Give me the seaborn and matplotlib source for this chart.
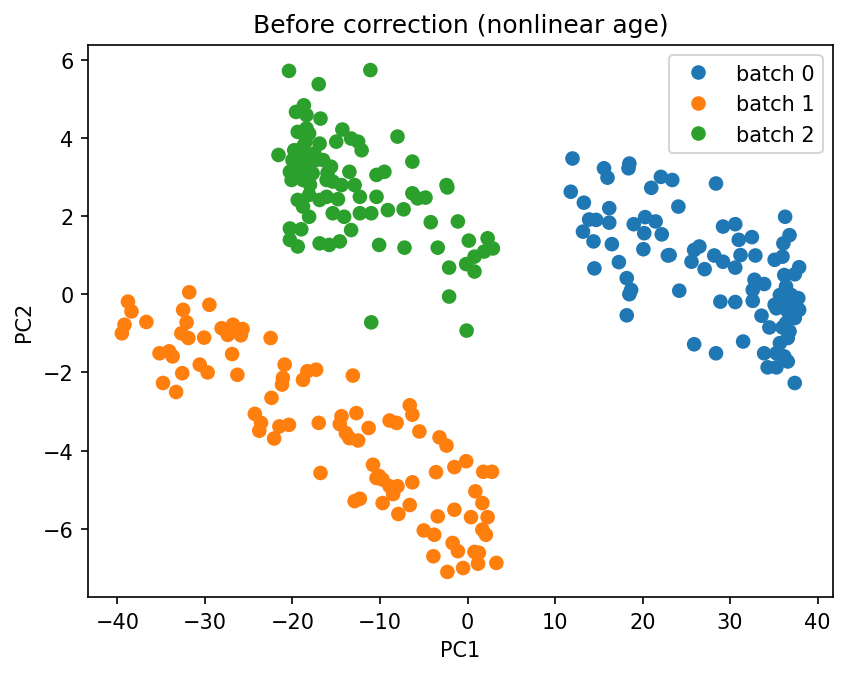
import numpy as np
import pandas as pd
import seaborn as sns
import matplotlib
matplotlib.use("Agg")
import matplotlib.pyplot as plt

# values
batch_names = ["batch 0", "batch 1", "batch 2"]
batch_colors = ["#1f77b4", "#ff7f0e", "#2ca02c"]

b0_x = [12.0, 15.6, 16.0, 18.5, 18.4, 22.1, 21.0, 11.8, 13.3, 16.2, 13.9, 14.7, 16.2, 13.2, 14.4,
        16.5, 19.0, 20.3, 21.5, 20.2, 22.2, 20.1, 22.9, 17.3, 14.5, 18.2, 18.7, 18.5, 18.2,
        23.4, 28.4, 24.1, 36.3, 29.2, 30.6, 36.8, 36.1, 31.0, 32.5, 26.5, 25.9, 23.1, 25.6, 28.2,
        29.2, 31.2, 32.9, 35.1, 36.0, 27.1, 30.6, 37.9, 37.4, 36.2, 32.8, 33.9, 32.6, 24.2,
        36.4, 35.7, 37.0, 37.8, 35.1, 36.2, 37.2, 37.9, 35.3, 36.6, 37.4, 36.4,
        28.9, 30.6, 32.6, 33.6, 34.5, 36.0, 36.8, 36.6, 35.7, 31.5, 25.9, 28.4, 33.9, 35.3, 36.2,
        36.6, 34.3, 35.3, 37.4]
b0_y = [3.47, 3.22, 2.98, 3.34, 3.22, 3.00, 2.72, 2.62, 2.34, 2.20, 1.91, 1.90, 1.83, 1.60, 1.35,
        1.28, 1.79, 1.97, 1.86, 1.56, 1.53, 1.15, 0.99, 0.82, 0.66, 0.41, 0.11, 0.00, -0.54,
        2.92, 2.83, 2.24, 1.98, 1.73, 1.79, 1.51, 1.30, 1.39, 1.46, 1.22, 1.13, 1.00, 0.83, 0.99,
        0.83, 1.00, 0.99, 0.88, 0.96, 0.64, 0.68, 0.69, 0.51, 0.49, 0.37, 0.26, 0.11, 0.09,
        0.20, -0.02, -0.02, -0.10, -0.27, -0.23, -0.27, -0.40, -0.36, -0.44, -0.61, -0.74,
        -0.19, -0.20, -0.17, -0.55, -0.85, -0.85, -0.95, -1.12, -1.25, -1.21, -1.28, -1.51, -1.51,
        -1.51, -1.59, -1.72, -1.87, -1.87, -2.27]

b1_x = [-31.8, -38.8, -38.4, -29.5, -32.5, -36.7, -32.1, -39.2, -39.5, -32.7, -31.9, -30.1, -28.1,
        -26.8, -25.7, -27.4, -25.9, -35.2, -34.1, -33.7, -26.9, -30.6, -29.7, -32.6, -26.3, -34.8,
        -33.3,
        -22.5, -20.9, -21.1, -21.2, -18.3, -17.3, -18.8, -13.1, -22.4, -24.3, -23.6, -23.8, -21.5,
        -20.4, -22.1, -17.0, -14.4, -12.7, -14.6, -13.9, -13.5, -12.5, -11.3, -10.8, -10.1, -16.8,
        -8.9, -8.1, -6.6, -6.3, -5.5, -3.2, -2.4, -10.4, -9.7, -8.9, -8.0, -8.5, -6.3, -6.6, -9.7,
        -12.9, -12.3, -7.9, -3.6, -1.5, -0.15, 1.8, 2.8, 0.9, 1.7, -3.4, -1.5, 0.4, 2.3, 1.7, 2.1,
        -5.0, -3.8, -1.7, -1.1, -3.9, 0.8, 1.3, 1.2, 3.3, -0.5, -2.3]
b1_y = [0.05, -0.19, -0.44, -0.27, -0.40, -0.71, -0.72, -0.78, -1.00, -1.00, -1.12, -1.11, -0.87,
        -0.78, -0.89, -1.04, -1.05, -1.51, -1.46, -1.59, -1.53, -1.80, -2.00, -2.02, -2.06, -2.27,
        -2.50,
        -1.12, -1.80, -2.14, -2.31, -1.97, -1.93, -2.19, -2.08, -2.65, -3.06, -3.29, -3.49, -3.38,
        -3.34, -3.69, -3.29, -3.12, -3.04, -3.32, -3.55, -3.68, -3.74, -3.42, -4.36, -4.65, -4.57,
        -3.23, -3.29, -2.84, -3.08, -3.51, -3.66, -3.87, -4.70, -4.74, -4.91, -4.91, -5.11, -4.81,
        -5.39, -5.34, -5.29, -5.23, -5.62, -4.55, -4.42, -4.27, -4.54, -4.54, -5.04, -5.34, -5.68,
        -5.51, -5.70, -5.70, -6.02, -6.15, -6.04, -6.15, -6.36, -6.57, -6.70, -6.59, -6.61, -6.89,
        -6.87, -7.00, -7.10]

b2_x = [-20.4, -11.1, -17.0, -18.7, -19.6, -18.4, -16.8, -19.4, -18.4, -18.1, -14.3, -15.0, -13.3,
        -12.5, -12.1, -16.9, -21.6, -19.8, -18.8,
        -20.0, -18.8, -18.1, -17.3, -16.5, -15.6, -19.6, -18.4, -20.3, -17.7, -20.1, -18.8, -16.1,
        -19.0, -17.5, -18.0, -16.0, -19.5, -18.5, -17.8,
        -13.5, -10.4, -9.5, -15.4, -14.4, -12.9, -19.4, -18.1, -16.9, -16.1, -14.8, -12.3, -10.4,
        -18.8, -18.1, -15.4, -14.1, -12.3, -11.0, -9.1,
        -20.3, -19.0, -13.3, -20.3, -19.4, -16.9, -15.8, -14.6, -10.1, -11.0,
        -8.0, -6.3, -2.4, -2.3, -6.3, -5.7, -4.8, -7.3, -4.2, -1.1, -7.2, -3.4, 0.15, 2.3, 2.9,
        1.9, 0.8, -0.15, 0.8, -2.1, -2.1, -0.1]
b2_y = [5.71, 5.73, 5.37, 4.83, 4.66, 4.58, 4.49, 4.15, 4.24, 4.11, 4.21, 3.90, 3.98,
        3.90, 3.68, 3.85, 3.56, 3.68, 3.77,
        3.43, 3.52, 3.34, 3.43, 3.43, 3.26, 3.22, 3.17, 3.13, 3.09, 2.92, 2.92, 2.92,
        3.30, 3.60, 2.80, 3.10, 3.00, 3.90, 3.40,
        3.13, 3.05, 3.13, 2.88, 2.79, 2.79, 2.41, 2.54, 2.41, 2.49, 2.43, 2.49, 2.49,
        2.24, 1.98, 2.07, 1.98, 2.07, 2.07, 2.15,
        1.68, 1.66, 1.64, 1.39, 1.22, 1.30, 1.26, 1.35, 1.26, -0.72,
        4.03, 3.39, 2.79, 2.73, 2.58, 2.45, 2.47, 2.17, 1.84, 1.86, 1.19, 1.19, 1.37, 1.43, 1.17,
        1.09, 0.96, 0.77, 0.58, 0.68, -0.06, -0.93]


def build_frame():
    """ Stack the three batches into one long table. """
    parts = []
    for name, xs, ys in zip(batch_names, [b0_x, b1_x, b2_x], [b0_y, b1_y, b2_y]):
        parts.append(pd.DataFrame({"PC1": xs, "PC2": ys, "batch": name}))
    return pd.concat(parts, ignore_index=True)


def main():
    df = build_frame()

    fig = plt.figure(figsize=(847 / 150, 678 / 150), dpi=150)
    ax = fig.add_axes([88 / 847, 1 - 598 / 678, (833 - 88) / 847, (598 - 46) / 678])

    sns.scatterplot(data=df, x="PC1", y="PC2", hue="batch", hue_order=batch_names,
                    palette=batch_colors, s=36, linewidth=1, alpha=1, ax=ax)
    # matplotlib-style edge: same colour as the face
    for coll in ax.collections:
        coll.set_edgecolor("face")

    handles, labels = ax.get_legend_handles_labels()
    for h in handles:
        h.set_markersize(7)
        h.set_markeredgewidth(0)
    ax.legend(handles, labels, loc="upper right", title=None)

    ax.set_title("Before correction (nonlinear age)")
    ax.set_xlabel("PC1")
    ax.set_ylabel("PC2")

    fig.savefig("out.png", dpi=150)


if __name__ == "__main__":
    main()
